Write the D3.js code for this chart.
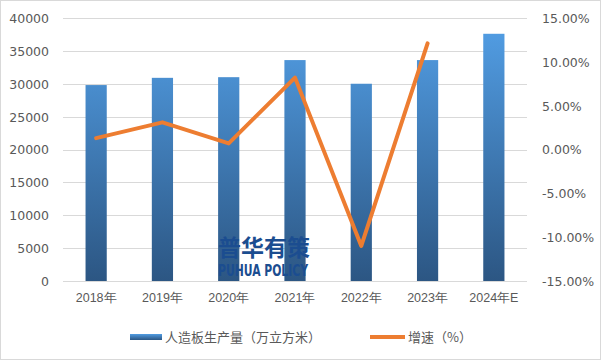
<!DOCTYPE html>
<html><head><meta charset="utf-8">
<script src="https://cdn.jsdelivr.net/npm/d3@7"></script>
<style>body{margin:0;background:#fff}svg{display:block;font-family:"Microsoft YaHei","Noto Sans CJK SC","DejaVu Sans",sans-serif}</style>
</head><body>
<script>
const categories = ["2018年","2019年","2020年","2021年","2022年","2023年","2024年E"];
const production = [29800, 30900, 31000, 33600, 30000, 33600, 37600];
const growth = [1.3, 3.1, 0.7, 8.2, -11.0, 12.1, null];
const leftTicks = [0,5000,10000,15000,20000,25000,30000,35000,40000];
const rightTicks = [-15,-10,-5,0,5,10,15];
const seriesNames = ["人造板生产量（万立方米）","增速（%）"];

const W=601,H=360;
const m={left:63,right:74,top:18,bottom:79};
const svg=d3.select("body").append("svg").attr("width",W).attr("height",H);
svg.append("rect").attr("x",0.5).attr("y",0.5).attr("width",W-1).attr("height",H-1).attr("fill","#fff").attr("stroke","#d9d9d9");

const x=d3.scaleBand().domain(categories).range([m.left,W-m.right]).paddingInner(0.68).paddingOuter(0.34);
const y=d3.scaleLinear().domain([0,40000]).range([H-m.bottom,m.top]);
const y2=d3.scaleLinear().domain([-15,15]).range([H-m.bottom,m.top]);

const defs=svg.append("defs");
const g=defs.append("linearGradient").attr("id","bg").attr("x1",0).attr("x2",0).attr("y1",0).attr("y2",1);
g.append("stop").attr("offset","0%").attr("stop-color","#519ce2");
g.append("stop").attr("offset","100%").attr("stop-color","#2c5683");
const gg=defs.append("linearGradient").attr("id","bgu").attr("gradientUnits","userSpaceOnUse")
  .attr("x1",0).attr("x2",0).attr("y1",y(38000)).attr("y2",y(0));
gg.append("stop").attr("offset","0%").attr("stop-color","#519ce2");
gg.append("stop").attr("offset","100%").attr("stop-color","#2c5683");

// gridlines
svg.append("g").selectAll("line").data(leftTicks).join("line")
  .attr("x1",m.left).attr("x2",W-m.right).attr("y1",d=>Math.round(y(d))+0.5).attr("y2",d=>Math.round(y(d))+0.5)
  .attr("stroke","#d9d9d9").attr("stroke-width",1);

// left axis
const la=svg.append("g").attr("transform",`translate(${m.left-14},0)`).call(d3.axisLeft(y).tickValues(leftTicks).tickSize(0).tickPadding(0).tickFormat(d3.format("d")));
la.select(".domain").remove();
la.selectAll("text").attr("fill","#595959").attr("font-size",12.5).attr("font-family","'DejaVu Sans',sans-serif").attr("dy","0.35em");

// right axis
const ra=svg.append("g").attr("transform",`translate(${W-m.right+15},0)`).call(d3.axisRight(y2).tickValues(rightTicks).tickSize(0).tickPadding(0).tickFormat(d=>d.toFixed(2)+"%"));
ra.select(".domain").remove();
ra.selectAll("text").attr("fill","#595959").attr("font-size",12.5).attr("font-family","'DejaVu Sans',sans-serif").attr("dy","0.35em");

// bars
svg.append("g").selectAll("rect").data(production).join("rect")
  .attr("x",(d,i)=>x(categories[i])).attr("width",x.bandwidth())
  .attr("y",d=>y(d)).attr("height",d=>y(0)-y(d)).attr("fill","url(#bgu)");

// x axis labels
const xa=svg.append("g").attr("transform",`translate(0,${H-m.bottom+10})`).call(d3.axisBottom(x).tickSize(0).tickPadding(0));
xa.select(".domain").remove();
xa.selectAll("text").attr("fill","#595959").attr("font-size",12.5).attr("dy","0.9em");

// watermark
const wm=svg.append("g").attr("fill","#1b4d90");
wm.append("text").attr("x",218).attr("y",256).attr("font-size",23).attr("font-weight","bold")
  .attr("textLength",92).attr("lengthAdjust","spacingAndGlyphs").text("普华有策");
wm.append("text").attr("x",218).attr("y",276).attr("font-size",16)
  .attr("font-family","'Liberation Sans Narrow','DejaVu Sans Condensed',sans-serif").attr("font-weight","bold")
  .attr("textLength",90).attr("lengthAdjust","spacingAndGlyphs").text("PUHUA POLICY");

// line
const pts=growth.map((v,i)=>[x(categories[i])+x.bandwidth()/2,v]).filter(p=>p[1]!=null);
svg.append("path").datum(pts).attr("fill","none").attr("stroke","#ed7d31").attr("stroke-width",4)
  .attr("stroke-linejoin","round").attr("stroke-linecap","round")
  .attr("d",d3.line().x(p=>p[0]).y(p=>y2(p[1])));

// legend
const lg=svg.append("g").attr("font-size",13).attr("fill","#595959");
lg.append("rect").attr("x",130).attr("y",334).attr("width",32).attr("height",6).attr("fill","url(#bg)");
lg.append("text").attr("x",165).attr("y",337).attr("dy","0.35em").text(seriesNames[0]);
lg.append("line").attr("x1",370).attr("x2",405).attr("y1",337).attr("y2",337).attr("stroke","#ed7d31").attr("stroke-width",4);
lg.append("text").attr("x",408).attr("y",337).attr("dy","0.35em").text(seriesNames[1]);
</script>
</body></html>
